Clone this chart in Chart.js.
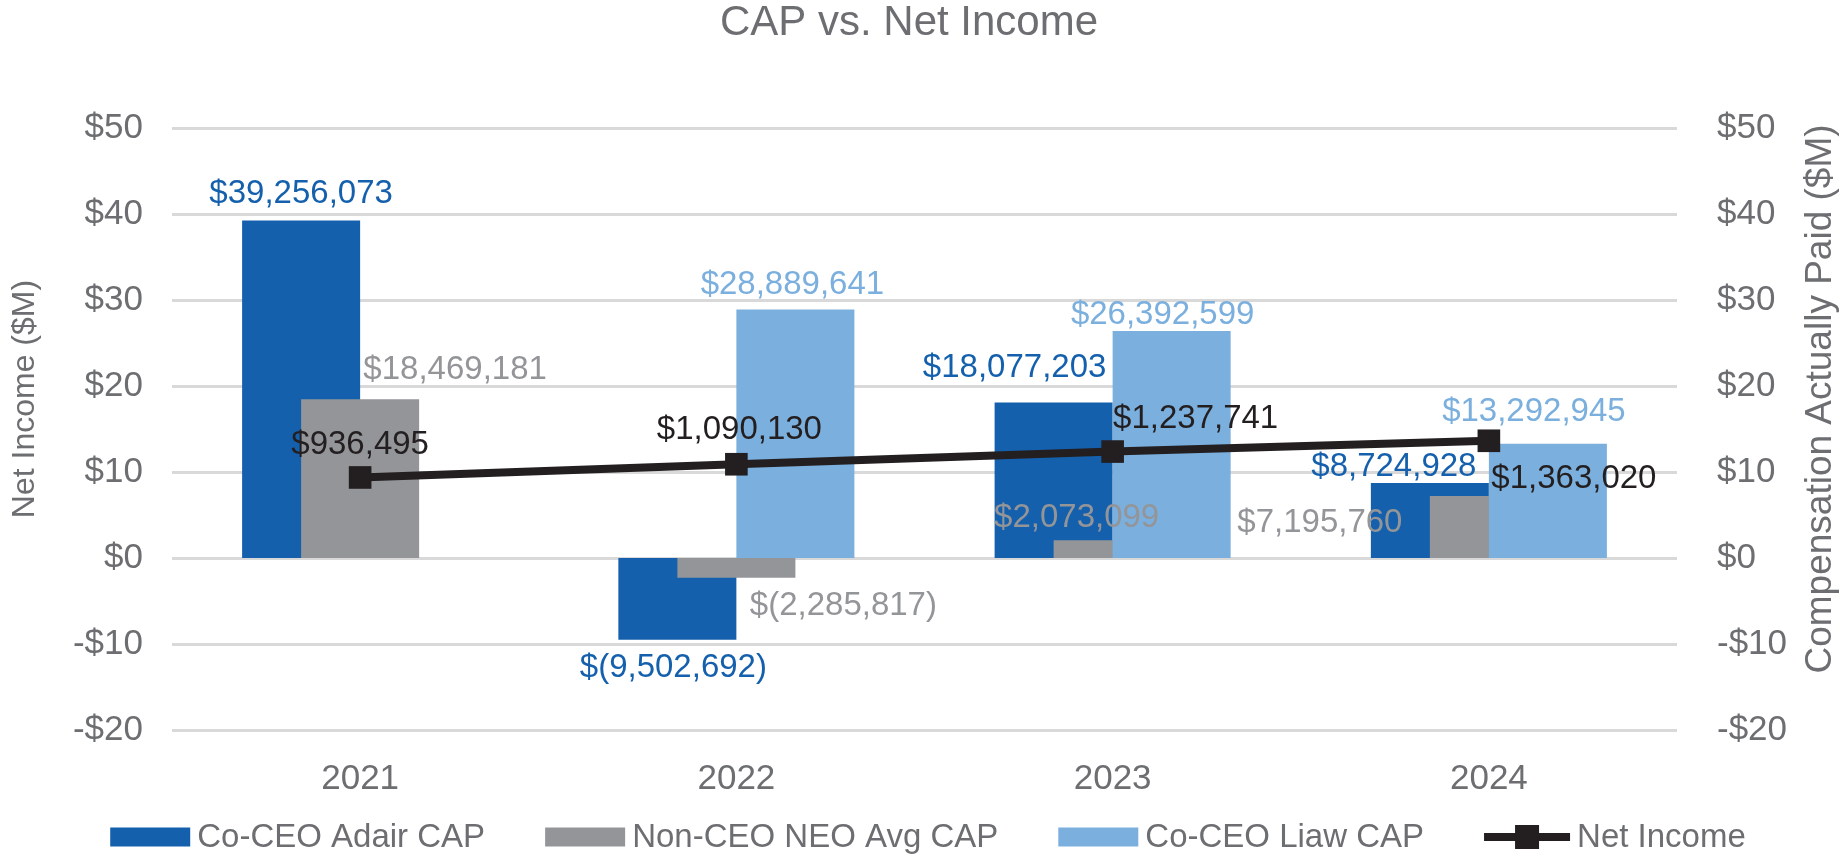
<!DOCTYPE html>
<html>
<head>
<meta charset="utf-8">
<script src="https://cdn.jsdelivr.net/npm/chart.js@4.4.1/dist/chart.umd.min.js"></script>
<style>
  html, body { margin: 0; padding: 0; background: #fff; }
  #wrap { width: 1842px; height: 856px; position: relative; }
</style>
</head>
<body>
<div id="wrap"><canvas id="capChart"></canvas></div>
<script>
// values
const years = ['2021', '2022', '2023', '2024'];
const adairCap = [39256073, -9502692, 18077203, 8724928];
const neoAvgCap = [18469181, -2285817, 2073099, 7195760];
const liawCap = [null, 28889641, 26392599, 13292945];
const netIncome = [936495, 1090130, 1237741, 1363020];

// plotted units: CAP in $M, net income as drawn on the same scale
const CAP_UNIT = 1e6;
const NI_UNIT = 1e5;

const FONT = '"Liberation Sans", Arial, Helvetica, sans-serif';
const adairColor = '#1560ad';
const neoColor = '#939598';
const liawColor = '#7bafde';
const lineColor = '#231f20';
const axisText = '#6d6e71';
const gridColor = '#d9d9d9';

// label nudges (dx, dy to baseline from the value end), like the hand placed labels
const adairNudge = [[0, -17], [-4, 37], [-39, -26], [-36, -7]];
const neoNudge = [[95, -20], [107, 37], [-36, -13], [-169, 36]];
const liawNudge = [null, [-3, -16], [-9, -7], [-14, -23]];
const lineNudge = [[0, -23], [3, -25], [83, -24], [85, 47]];

function money(v) {
    const s = Math.abs(v).toLocaleString('en-US');
    return v < 0 ? '$(' + s + ')' : '$' + s;
}
function tickMoney(v) {
    return v < 0 ? '-$' + Math.abs(v) : '$' + v;
}

const toM = arr => arr.map(v => v === null ? null : v / CAP_UNIT);
const empty = years.map(() => null);

const valueLabels = {
    id: 'valueLabels',
    afterDatasetsDraw(chart) {
        const ctx = chart.ctx;
        ctx.save();
        ctx.font = '33px ' + FONT;
        ctx.textAlign = 'center';
        ctx.textBaseline = 'alphabetic';
        chart.data.datasets.forEach((ds, i) => {
            if (!ds.raw) return;
            const meta = chart.getDatasetMeta(i);
            meta.data.forEach((el, j) => {
                const v = ds.raw[j];
                const n = ds.nudge[j];
                if (v === null || !n) return;
                ctx.fillStyle = ds.labelColor;
                ctx.fillText(money(v), el.x + n[0], el.y + n[1]);
            });
        });
        ctx.restore();
    }
};

// chart title and the two axis titles (both read bottom to top)
const titles = {
    id: 'titles',
    afterDraw(chart) {
        const ctx = chart.ctx;
        const area = chart.chartArea;
        ctx.save();
        ctx.fillStyle = axisText;
        ctx.textAlign = 'center';
        ctx.textBaseline = 'middle';
        ctx.font = '42px ' + FONT;
        ctx.fillText('CAP vs. Net Income', chart.width / 2 - 12, 23);

        const midY = area.top + (area.bottom - area.top) / 2 - 30;
        ctx.font = '32px ' + FONT;
        ctx.save();
        ctx.translate(25, midY);
        ctx.rotate(-Math.PI / 2);
        ctx.fillText('Net Income ($M)', 0, 0);
        ctx.restore();

        ctx.font = '37px ' + FONT;
        ctx.save();
        ctx.translate(chart.width - 21, midY);
        ctx.rotate(-Math.PI / 2);
        ctx.fillText('Compensation Actually Paid ($M)', 0, 0);
        ctx.restore();
        ctx.restore();
    }
};

const bottomLegend = {
    id: 'bottomLegend',
    afterDraw(chart) {
        const ctx = chart.ctx;
        const items = [
            { text: 'Co-CEO Adair CAP', color: adairColor },
            { text: 'Non-CEO NEO Avg CAP', color: neoColor },
            { text: 'Co-CEO Liaw CAP', color: liawColor },
            { text: 'Net Income', color: lineColor, line: true }
        ];
        const boxW = 80, boxH = 19, lineW = 86, textGap = 7, itemGap = 60;
        ctx.save();
        ctx.font = '33px ' + FONT;
        ctx.textBaseline = 'middle';
        ctx.textAlign = 'left';
        let total = 0;
        items.forEach((it, i) => {
            it.w = ctx.measureText(it.text).width;
            total += (it.line ? lineW : boxW) + textGap + it.w + (i < items.length - 1 ? itemGap : 0);
        });
        let x = chart.width / 2 + 7 - total / 2;
        const y = chart.chartArea.bottom + 107;
        items.forEach(it => {
            ctx.fillStyle = it.color;
            if (it.line) {
                ctx.fillRect(x, y - 4, lineW, 8);
                ctx.fillRect(x + lineW / 2 - 12, y - 12, 24, 24);
                x += lineW;
            } else {
                ctx.fillRect(x, y - boxH / 2, boxW, boxH);
                x += boxW;
            }
            x += textGap;
            ctx.fillStyle = axisText;
            ctx.fillText(it.text, x, y + 1);
            x += it.w + itemGap;
        });
        ctx.restore();
    }
};

const ctx = document.getElementById('capChart').getContext('2d');

new Chart(ctx, {
    type: 'bar',
    data: {
        labels: years,
        datasets: [
            {
                type: 'line',
                label: 'Net Income',
                data: netIncome.map(v => v / NI_UNIT),
                raw: netIncome, nudge: lineNudge, labelColor: lineColor,
                yAxisID: 'y',
                borderColor: lineColor,
                backgroundColor: lineColor,
                borderWidth: 8,
                pointStyle: 'rect',
                pointRadius: 16,
                pointBorderWidth: 0,
                pointBackgroundColor: lineColor,
                tension: 0,
                order: -10
            },
            // empty placeholders fix the slot order (Adair, NEO, Liaw) while later bars paint on top
            { label: 'slotA', data: empty, stack: 'a', yAxisID: 'y1', order: -3 },
            { label: 'slotB', data: empty, stack: 'b', yAxisID: 'y1', order: -2 },
            { label: 'slotC', data: empty, stack: 'c', yAxisID: 'y1', order: -1 },
            {
                label: 'Co-CEO Adair CAP',
                data: toM(adairCap),
                raw: adairCap, nudge: adairNudge, labelColor: adairColor,
                backgroundColor: adairColor,
                stack: 'a', yAxisID: 'y1', order: 3
            },
            {
                label: 'Non-CEO NEO Avg CAP',
                data: toM(neoAvgCap),
                raw: neoAvgCap, nudge: neoNudge, labelColor: neoColor,
                backgroundColor: neoColor,
                stack: 'b', yAxisID: 'y1', order: 2
            },
            {
                label: 'Co-CEO Liaw CAP',
                data: toM(liawCap),
                raw: liawCap, nudge: liawNudge, labelColor: liawColor,
                backgroundColor: liawColor,
                stack: 'c', yAxisID: 'y1', order: 1
            }
        ]
    },
    options: {
        responsive: true,
        maintainAspectRatio: false,
        animation: false,
        datasets: {
            bar: { categoryPercentage: 0.4705, barPercentage: 2.0, borderWidth: 0 }
        },
        layout: { padding: { left: 0, right: 0, top: 128, bottom: 66 } },
        plugins: {
            legend: { display: false },
            tooltip: { enabled: false },
            title: { display: false }
        },
        scales: {
            x: {
                grid: { display: false, drawTicks: false },
                border: { display: false },
                ticks: { color: axisText, font: { family: FONT, size: 35 }, padding: 28 },
                afterFit: s => { s.height = 60; }
            },
            y: {
                position: 'left',
                min: -20, max: 50,
                stacked: false,
                grid: { color: gridColor, lineWidth: 3, drawTicks: false },
                border: { display: false },
                ticks: { stepSize: 10, color: axisText, font: { family: FONT, size: 35 }, padding: 29, callback: tickMoney },
                afterFit: s => { s.width = 172; }
            },
            y1: {
                position: 'right',
                min: -20, max: 50,
                stacked: false,
                grid: { display: false, drawTicks: false },
                border: { display: false },
                ticks: { stepSize: 10, color: axisText, font: { family: FONT, size: 35 }, padding: 40, callback: tickMoney },
                afterFit: s => { s.width = 165; }
            }
        }
    },
    plugins: [valueLabels, titles, bottomLegend]
});
</script>
</body>
</html>
